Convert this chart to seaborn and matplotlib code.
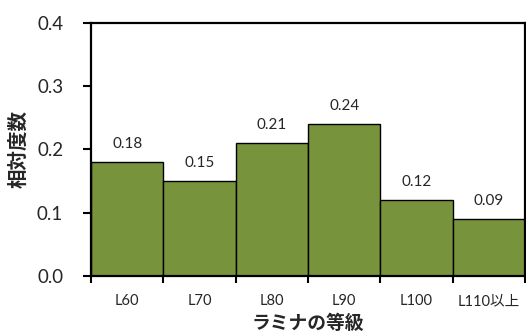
import matplotlib
matplotlib.use("Agg")
import matplotlib.pyplot as plt
import seaborn as sns
import pandas as pd

# 等級ごとの相対度数
grades = ["L60", "L70", "L80", "L90", "L100", "L110以上"]
freq = [0.18, 0.15, 0.21, 0.24, 0.12, 0.09]

sns.set_theme(style="white")
plt.rcParams["font.family"] = ["Lato", "Noto Sans CJK JP", "DejaVu Sans"]

df = pd.DataFrame({"grade": grades, "freq": freq})

fig = plt.figure(figsize=(5.26, 3.34), dpi=100)
ax = fig.add_axes([0.173, 0.174, 0.825, 0.757])

sns.barplot(data=df, x="grade", y="freq", ax=ax, color="#77933C",
            saturation=1, width=1.0, edgecolor="black", linewidth=1.0)

ax.set_xlim(-0.5, len(grades) - 0.5)
ax.set_ylim(0, 0.4)
ax.set_yticks([0.0, 0.1, 0.2, 0.3, 0.4])
ax.set_yticklabels([f"{v:.1f}" for v in [0.0, 0.1, 0.2, 0.3, 0.4]], fontsize=13.5)

# 区切り目盛りは階級の境界、ラベルは各棒の中央
ax.set_xticks([i - 0.5 for i in range(len(grades) + 1)])
ax.set_xticklabels([])
ax.set_xticks(range(len(grades)), minor=True)
ax.set_xticklabels(grades, minor=True, fontsize=10.5)
ax.tick_params(axis="x", which="major", direction="out", length=5, width=1.5,
               bottom=True, color="black")
ax.tick_params(axis="x", which="minor", length=0, pad=13, bottom=True)
ax.tick_params(axis="y", direction="out", length=6, width=1.5, left=True,
               color="black", pad=14)

for s in ax.spines.values():
    s.set_color("black")
    s.set_linewidth(1.6)

for i, v in enumerate(freq):
    ax.annotate(f"{v:.2f}", (i, v), xytext=(0, 8), textcoords="offset points",
                ha="center", va="bottom", fontsize=11)

ax.set_xlabel("ラミナの等級", fontsize=13.5, fontweight="bold",
              family=["Noto Sans CJK JP"], labelpad=4)
ax.set_ylabel("相対度数", fontsize=14, fontweight="bold",
              family=["Noto Sans CJK JP"], labelpad=6)

fig.savefig("out.png", dpi=100)
